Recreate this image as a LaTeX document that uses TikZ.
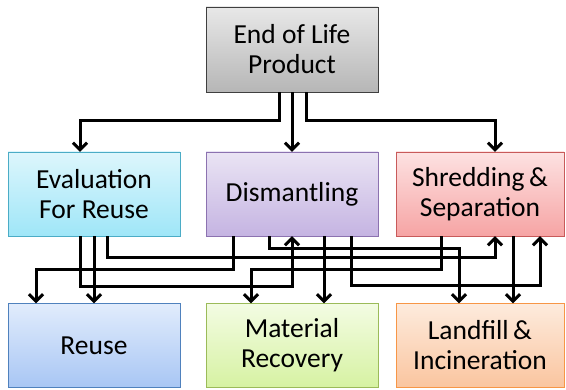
\documentclass[tikz,border=0pt]{standalone}
\usepackage{fontspec}
\setmainfont{Carlito}
\usetikzlibrary{arrows.meta}

\definecolor{greyTop}{HTML}{E8E8E8}
\definecolor{greyBot}{HTML}{B6B6B6}
\definecolor{greyLine}{HTML}{3F3F3F}
\definecolor{cyanTop}{HTML}{DDF6FC}
\definecolor{cyanBot}{HTML}{9FE6F8}
\definecolor{cyanLine}{HTML}{4BACC6}
\definecolor{lilaTop}{HTML}{EAE4F4}
\definecolor{lilaBot}{HTML}{C5B4E2}
\definecolor{lilaLine}{HTML}{8C72B0}
\definecolor{redTop}{HTML}{FDE2E2}
\definecolor{redBot}{HTML}{F6A4A4}
\definecolor{redLine}{HTML}{C85A5A}
\definecolor{blueTop}{HTML}{E1ECFC}
\definecolor{blueBot}{HTML}{A8C6F4}
\definecolor{blueLine}{HTML}{4F81BD}
\definecolor{greenTop}{HTML}{F3FCE3}
\definecolor{greenBot}{HTML}{D6F2A2}
\definecolor{greenLine}{HTML}{9BBB59}
\definecolor{orangeTop}{HTML}{FDEBDD}
\definecolor{orangeBot}{HTML}{FAC59F}
\definecolor{orangeLine}{HTML}{F79646}

\tikzset{
    block/.style={
           rectangle,
           draw, thin,
           minimum width=172pt,
           minimum height=84pt,
           inner sep=2pt,
           align=center,
           font=\fontsize{27.5}{30}\selectfont,
           },
    tint/.style n args={3}{top color=#1, bottom color=#2, draw=#3},
    flow/.style={-{Straight Barb[length=7pt,width=14pt]}, line width=3pt},
}

\begin{document}
\begin{tikzpicture}[x=1pt, y=1pt]
    \useasboundingbox (0,0) rectangle (566,389);

    % Top: the product at its end of life
    \node[block, tint={greyTop}{greyBot}{greyLine},
    minimum height=85pt,
    anchor=center] (top) 	% centre of the 'box'
    at (292,339.5) {End of Life\\Product};

    % Middle row: the three ways of treating it
    \node[block, tint={lilaTop}{lilaBot}{lilaLine},
    below of=top,
    node distance=144.5pt,
    anchor=center] (dism)
    {Dismantling};

    \node[block, tint={cyanTop}{cyanBot}{cyanLine},
    left of=dism,
    node distance=198pt,
    anchor=center] (eval)
    {Evaluation\\For Reuse};

    \node[block, tint={redTop}{redBot}{redLine},
    minimum width=168pt,
    right of=dism,
    node distance=188pt,
    anchor=center] (shred)
    {Shredding\,\&\\Separation};

    % Bottom row: where it ends up
    \node[block, tint={blueTop}{blueBot}{blueLine},
    below of=eval,
    node distance=151.5pt,
    anchor=center] (reuse)
    {Reuse};

    \node[block, tint={greenTop}{greenBot}{greenLine},
    below of=dism,
    node distance=151.5pt,
    anchor=center] (mr)
    {Material\\Recovery};

    \node[block, tint={orangeTop}{orangeBot}{orangeLine},
    minimum width=168pt,
    below of=shred,
    node distance=151.5pt,
    anchor=center] (land)
    {Landfill\,\&\\Incineration};

    % draw the flows from the product into the middle row
    \draw[flow] ([xshift=-13pt]top.south) -- ++(0,-28) -| ([xshift=-14pt]eval.north);
    \draw[flow] (top) -- (dism);
    \draw[flow] ([xshift=14pt]top.south) -- ++(0,-28) -| ([xshift=15pt]shred.north);

    % and the flows between the middle and the bottom row
    \draw[flow] (eval) -- (reuse);
    \draw[flow] ([xshift=-14pt]eval.south) -- ++(0,-50) -| (dism.south);
    \draw[flow] ([xshift=13pt]eval.south) -- ++(0,-21) -| ([xshift=15pt]shred.south);
    \draw[flow] ([xshift=-59pt]dism.south) -- ++(0,-33) -| ([xshift=-58pt]reuse.north);
    \draw[flow] ([xshift=-23pt]dism.south) -- ++(0,-12) -| ([xshift=-21pt]land.north);
    \draw[flow] ([xshift=32pt]dism.south) -- ([xshift=32pt]mr.north);
    \draw[flow] ([xshift=59pt]dism.south) -- ++(0,-49) -| ([xshift=60pt]shred.south);
    \draw[flow] ([xshift=-39pt]shred.south) -- ++(0,-33) -| ([xshift=-41pt]mr.north);
    \draw[flow] ([xshift=33pt]shred.south) -- ([xshift=33pt]land.north);
\end{tikzpicture}
\end{document}
